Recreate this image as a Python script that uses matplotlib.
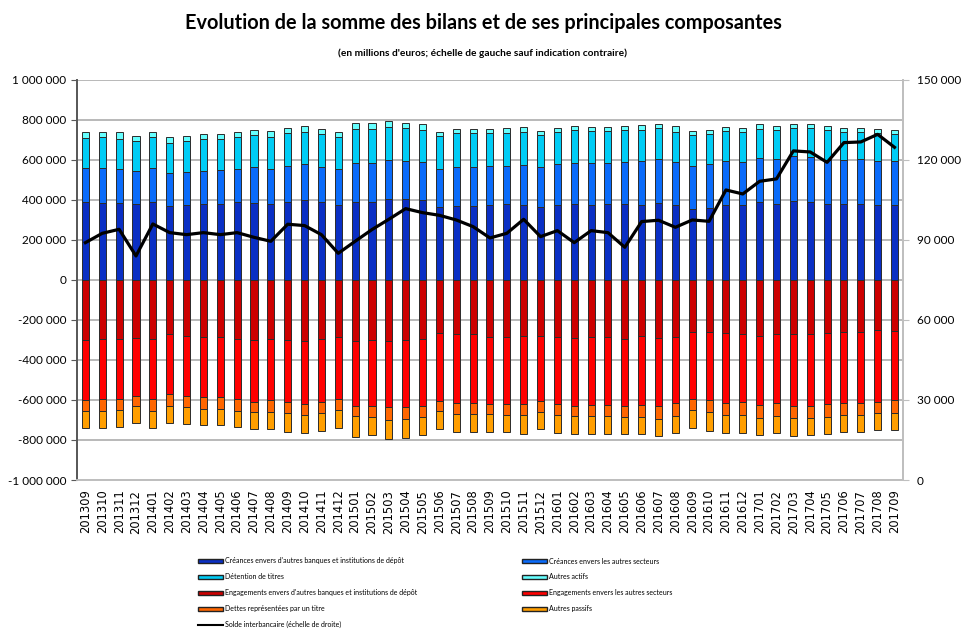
import matplotlib
matplotlib.use("Agg")
import matplotlib.pyplot as plt
from matplotlib.patches import Patch
from matplotlib.lines import Line2D
from matplotlib.ticker import FuncFormatter, MultipleLocator
import numpy as np

plt.rcParams['font.family'] = ['Lato', 'DejaVu Sans']

months = []
for y in range(2013, 2018):
    for m in range(1, 13):
        if (y == 2013 and m < 9) or (y == 2017 and m > 9):
            continue
        months.append("%d%02d" % (y, m))

# actif (milliers de millions d'euros, multiplied by 1000 below)
creances_banques = [392, 387, 387, 378, 388, 368, 373, 378, 378, 388, 387, 382, 392, 402, 388, 373,
                    392, 392, 403, 403, 398, 367, 372, 372, 377, 378, 377, 367, 377, 382, 377, 382,
                    382, 377, 387, 375, 357, 362, 377, 377, 388, 382, 397, 390, 382, 380, 380, 377, 377]
creances_autres = [166, 171, 166, 167, 170, 169, 167, 167, 172, 165, 178, 171, 178, 176, 177, 180,
                   193, 193, 197, 192, 192, 188, 193, 193, 193, 192, 198, 198, 201, 203, 208, 203,
                   208, 218, 216, 215, 211, 216, 216, 211, 220, 221, 221, 223, 216, 218, 223, 216, 218]
detention_titres = [154, 155, 154, 148, 155, 150, 153, 158, 153, 160, 158, 164, 163, 164, 163, 164,
                    168, 168, 167, 167, 158, 163, 168, 168, 163, 167, 163, 158, 160, 163, 158, 158,
                    158, 153, 155, 152, 155, 150, 150, 150, 149, 145, 144, 149, 150, 140, 135, 140, 133]
autres_actifs = [30, 25, 31, 25, 25, 26, 25, 27, 27, 25, 27, 26, 25, 26, 29, 21,
                 30, 30, 30, 25, 30, 24, 24, 24, 24, 25, 29, 24, 24, 24, 24, 24,
                 24, 29, 24, 26, 20, 24, 24, 24, 21, 24, 20, 20, 24, 24, 24, 20, 20]

# passif
engagements_banques = [300, 293, 293, 288, 293, 272, 278, 283, 283, 293, 300, 293, 300, 303, 293, 283,
                       303, 300, 305, 300, 293, 267, 272, 272, 283, 283, 278, 278, 283, 288, 283, 283,
                       293, 280, 288, 283, 258, 262, 263, 268, 278, 268, 272, 268, 263, 258, 258, 248, 253]
engagements_autres = [302, 304, 304, 290, 304, 300, 300, 304, 304, 304, 308, 309, 312, 319, 319, 314,
                      325, 328, 332, 337, 339, 340, 345, 345, 339, 339, 344, 329, 339, 344, 344, 344,
                      339, 347, 344, 334, 339, 340, 354, 344, 349, 349, 360, 364, 359, 359, 359, 360, 349]
dettes_titre = [55, 58, 53, 54, 58, 60, 57, 58, 58, 58, 54, 60, 55, 53, 55, 55,
                52, 55, 63, 56, 51, 48, 55, 55, 50, 53, 53, 55, 53, 48, 53, 53,
                51, 56, 61, 61, 53, 58, 58, 63, 61, 61, 60, 60, 61, 58, 58, 57, 63]
autres_passifs = [81, 83, 83, 83, 83, 83, 85, 78, 78, 78, 81, 81, 91, 88, 86, 86,
                  103, 94, 97, 95, 90, 88, 88, 88, 88, 85, 93, 81, 90, 88, 88, 88,
                  89, 89, 89, 89, 92, 93, 92, 88, 89, 89, 90, 85, 85, 83, 83, 87, 83]

solde_interbancaire = [89000, 92500, 94000, 84000, 96000, 92750, 92000, 92750, 92000, 92750, 91000,
                       89500, 95900, 95400, 92000, 85000, 89500, 93900, 97750, 101750, 100250, 99250,
                       97500, 95000, 90750, 92500, 97750, 91250, 93500, 89000, 93500, 92750, 87250,
                       96900, 97400, 94750, 97500, 97000, 108750, 107250, 112000, 112900, 123400,
                       123000, 119100, 126500, 126750, 129600, 124750]

labels_pos = ["Créances envers d'autres banques et institutions de dépôt",
              "Créances envers les autres secteurs",
              "Détention de titres",
              "Autres actifs"]
labels_neg = ["Engagements envers d'autres banques et institutions de dépôt",
              "Engagements envers les autres secteurs",
              "Dettes représentées par un titre",
              "Autres passifs"]
colors_pos = ["#0A2FC4", "#0A6BFA", "#00CCF5", "#66FFFF"]
colors_neg = ["#CC0000", "#FF0000", "#FF6600", "#FF9E00"]

pos_series = [creances_banques, creances_autres, detention_titres, autres_actifs]
neg_series = [engagements_banques, engagements_autres, dettes_titre, autres_passifs]

fig = plt.figure(figsize=(9.66, 6.33), dpi=100)
ax = fig.add_axes([0.0797, 0.2417, 0.855, 0.632])
ax2 = ax.twinx()

x = np.arange(len(months))
width = 0.42

bottom = np.zeros(len(months))
for vals, c in zip(pos_series, colors_pos):
    v = np.array(vals) * 1000.0
    ax.bar(x, v, width, bottom=bottom, color=c, edgecolor="#2b2b2b", linewidth=0.7, zorder=3)
    bottom += v

bottom = np.zeros(len(months))
for vals, c in zip(neg_series, colors_neg):
    v = -np.array(vals) * 1000.0
    ax.bar(x, v, width, bottom=bottom, color=c, edgecolor="#2b2b2b", linewidth=0.7, zorder=3)
    bottom += v

ax2.plot(x, solde_interbancaire, color="black", linewidth=2.3, zorder=5)

fmt = FuncFormatter(lambda v, p: ("{:,.0f}".format(v)).replace(",", " "))
ax.set_ylim(-1000000, 1000000)
ax.yaxis.set_major_locator(MultipleLocator(200000))
ax.yaxis.set_major_formatter(fmt)
ax2.set_ylim(0, 150000)
ax2.yaxis.set_major_locator(MultipleLocator(30000))
ax2.yaxis.set_major_formatter(fmt)

ax.set_xlim(-0.5, len(months) - 0.5)
ax.set_xticks(x)
ax.set_xticklabels(months, rotation=90, fontsize=8.3, family=["DejaVu Sans"])
ax.grid(axis="y", color="#A6A6A6", linewidth=1.1, zorder=0)
ax.set_axisbelow(True)

for a in (ax, ax2):
    a.spines["top"].set_visible(False)
    a.spines["left"].set_color("#595959")
    a.spines["right"].set_color("#BFBFBF")
    a.spines["bottom"].set_color("#BFBFBF")
    for s in ("left", "right", "bottom"):
        a.spines[s].set_linewidth(1.3)
    a.tick_params(axis="y", labelcolor="black", labelsize=8.5, length=4)
ax.tick_params(axis="y", colors="#595959", labelcolor="black")
ax2.tick_params(axis="y", colors="#BFBFBF", labelcolor="black", pad=6)
ax.tick_params(axis="x", length=0, pad=7)
ax.set_zorder(ax2.get_zorder() - 1)
ax2.patch.set_visible(False)
ax.patch.set_visible(True)

fig.text(0.5, 0.964, "Evolution de la somme des bilans et de ses principales composantes",
         ha="center", va="center", fontsize=14.3, fontweight="bold")
fig.text(0.5, 0.916, "(en millions d'euros; échelle de gauche sauf indication contraire)",
         ha="center", va="center", fontsize=7.3, fontweight="bold")

col1 = [Patch(facecolor=colors_pos[0], edgecolor="#222222", label=labels_pos[0]),
        Patch(facecolor=colors_pos[2], edgecolor="#222222", label=labels_pos[2]),
        Patch(facecolor=colors_neg[0], edgecolor="#222222", label=labels_neg[0]),
        Patch(facecolor=colors_neg[2], edgecolor="#222222", label=labels_neg[2]),
        Line2D([0], [0], color="black", linewidth=1.5, label="Solde interbancaire (échelle de droite)")]
col2 = [Patch(facecolor=colors_pos[1], edgecolor="#222222", label=labels_pos[1]),
        Patch(facecolor=colors_pos[3], edgecolor="#222222", label=labels_pos[3]),
        Patch(facecolor=colors_neg[1], edgecolor="#222222", label=labels_neg[1]),
        Patch(facecolor=colors_neg[3], edgecolor="#222222", label=labels_neg[3])]

leg_kw = dict(loc="upper left", frameon=False, fontsize=5, handlelength=3.6, handleheight=0.55,
              handletextpad=0.3, labelspacing=1.28, borderaxespad=0, borderpad=0)
leg1 = fig.legend(handles=col1, bbox_to_anchor=(198 / 966, 1 - 557.5 / 633), **leg_kw)
leg2 = fig.legend(handles=col2, bbox_to_anchor=(522 / 966, 1 - 557.5 / 633), **leg_kw)

fig.savefig("out.png", dpi=100)
